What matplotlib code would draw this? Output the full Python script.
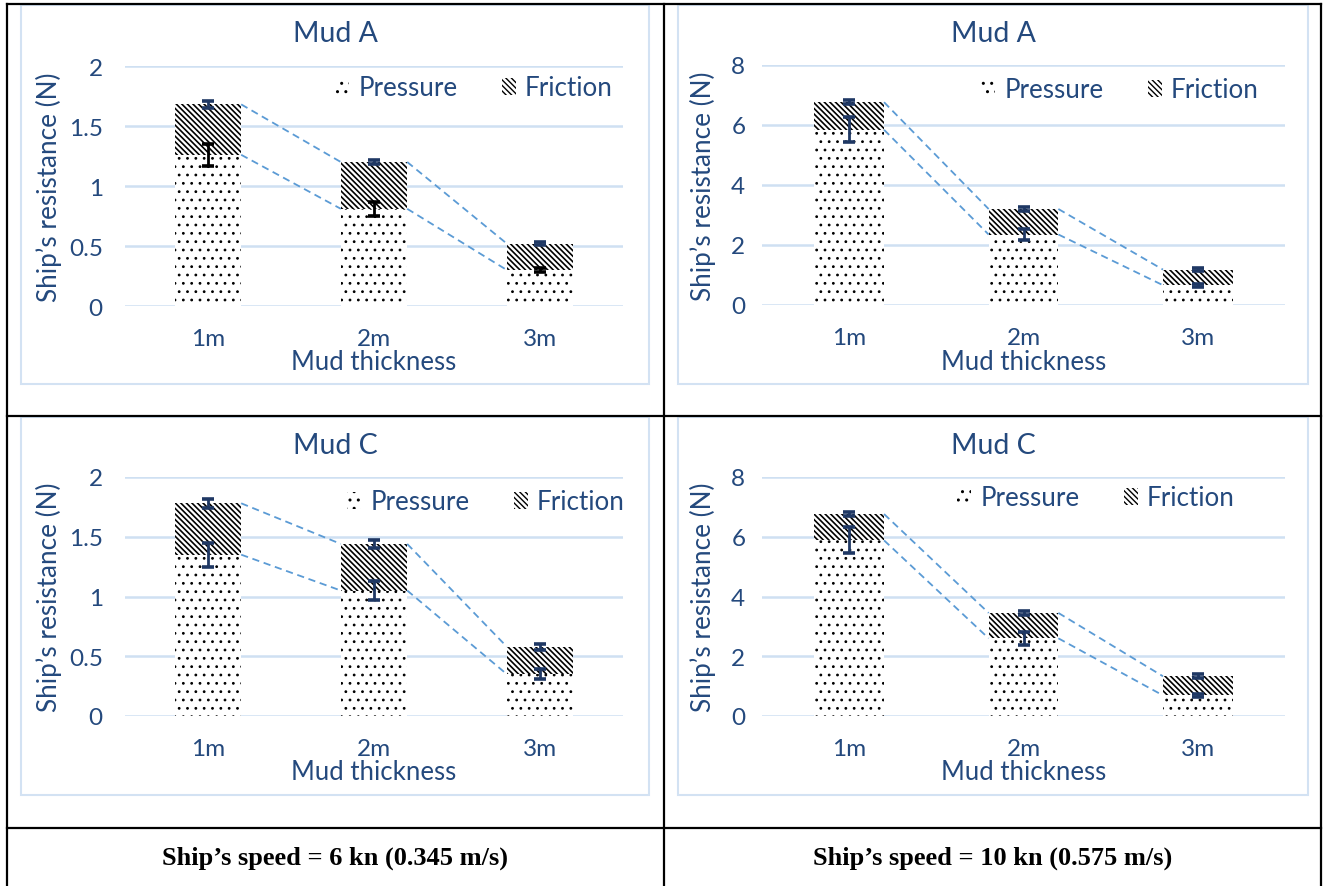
import matplotlib
matplotlib.use("Agg")
import matplotlib.pyplot as plt
from matplotlib.patches import Rectangle
from matplotlib.lines import Line2D
import numpy as np

# ---- data ---------------------------------------------------------------
thickness = ["1m", "2m", "3m"]

# Mud A, 6 kn
mudA_6_pressure = [1.26, 0.81, 0.30]
mudA_6_friction = [0.42, 0.39, 0.22]
mudA_6_pressure_err = [0.09, 0.06, 0.02]
mudA_6_total_err = [0.03, 0.02, 0.015]

# Mud A, 10 kn
mudA_10_pressure = [5.84, 2.35, 0.66]
mudA_10_friction = [0.92, 0.85, 0.52]
mudA_10_pressure_err = [0.42, 0.18, 0.05]
mudA_10_total_err = [0.07, 0.08, 0.05]

# Mud C, 6 kn
mudC_6_pressure = [1.35, 1.05, 0.35]
mudC_6_friction = [0.43, 0.39, 0.23]
mudC_6_pressure_err = [0.10, 0.08, 0.04]
mudC_6_total_err = [0.04, 0.03, 0.025]

# Mud C, 10 kn
mudC_10_pressure = [5.88, 2.60, 0.69]
mudC_10_friction = [0.88, 0.85, 0.64]
mudC_10_pressure_err = [0.44, 0.22, 0.06]
mudC_10_total_err = [0.08, 0.08, 0.06]

ticks_6 = [0, 0.5, 1, 1.5, 2]
tick_labels_6 = ["0", "0.5", "1", "1.5", "2"]
ticks_10 = [0, 2, 4, 6, 8]
tick_labels_10 = ["0", "2", "4", "6", "8"]

captions = ["Ship\u2019s speed = 6 kn (0.345 m/s)", "Ship\u2019s speed = 10 kn (0.575 m/s)"]

# ---- styling ------------------------------------------------------------
W, H = 1325, 887
TEXT = "#24497D"
GRID = "#CFE0F2"
BOX = "#D3E2F3"
SERIES_LINE = "#5B9BD5"
ERR = "#1F3864"
FONT = "Lato"

plt.rcParams["font.family"] = [FONT, "DejaVu Sans"]

fig = plt.figure(figsize=(W / 100, H / 100), dpi=100)


def fx(px):
    return px / W


def fy(py):
    return 1 - py / H


def chart(box, plot, title, pressure, friction, p_err, t_err, ticks, tick_labels,
          ymax, ylab_x, legend_xy, ytick_pad, p_err_color=ERR):
    bx0, by0, bx1, by1 = box
    fig.add_artist(Rectangle((fx(bx0), fy(by1)), fx(bx1 - bx0), (by1 - by0) / H,
                             transform=fig.transFigure, fill=False,
                             edgecolor=BOX, linewidth=1.5))
    x0, y0, x1, y1 = plot
    ax = fig.add_axes([fx(x0), fy(y1), fx(x1 - x0), (y1 - y0) / H])
    x = np.arange(len(thickness))
    width = 0.4
    pressure = np.asarray(pressure)
    friction = np.asarray(friction)
    total = pressure + friction

    with plt.rc_context({"hatch.linewidth": 0.8}):
        ax.bar(x, pressure, width, color="white", edgecolor="black", hatch="..",
               linewidth=0, zorder=2, label="Pressure")
    with plt.rc_context({"hatch.linewidth": 1.2}):
        ax.bar(x, friction, width, bottom=pressure, color="white", edgecolor="black",
               hatch="\\\\\\\\\\\\", linewidth=0, zorder=2, label="Friction")

    # series lines joining the segment tops of neighbouring bars
    for tops in (pressure, total):
        for i in range(len(x) - 1):
            ax.plot([x[i] + width / 2, x[i + 1] - width / 2], [tops[i], tops[i + 1]],
                    color=SERIES_LINE, linestyle=(0, (4, 2.6)), linewidth=1.3, zorder=3)

    ax.errorbar(x, pressure, yerr=p_err, fmt="none", ecolor=p_err_color,
                elinewidth=2.0, capsize=4.3, capthick=2.6, zorder=4)
    ax.errorbar(x, total, yerr=t_err, fmt="none", ecolor=ERR,
                elinewidth=2.0, capsize=4.3, capthick=2.6, zorder=4)

    ax.set_xlim(-0.5, 2.5)
    ax.set_ylim(0, ymax)
    ax.set_yticks(ticks)
    ax.set_yticklabels(tick_labels)
    ax.set_xticks(x)
    ax.set_xticklabels(thickness)
    ax.grid(axis="y", color=GRID, linewidth=1.8, zorder=0)
    ax.set_axisbelow(True)
    for s in ax.spines.values():
        s.set_visible(False)
    ax.tick_params(axis="both", length=0, labelsize=17.5, labelcolor=TEXT)
    ax.tick_params(axis="y", pad=ytick_pad)
    ax.tick_params(axis="x", pad=16)
    ax.set_xlabel("Mud thickness", fontsize=18.5, color=TEXT, labelpad=0, va="center")
    ax.xaxis.set_label_coords(0.5, -56 / (y1 - y0))
    ax.set_ylabel("Ship\u2019s resistance (N)", fontsize=18.8, color=TEXT, va="center")
    ax.yaxis.set_label_coords(-(x0 - ylab_x) / (x1 - x0), 0.5)

    fig.text(fx((bx0 + bx1) / 2), fy(by0 + 28), title, fontsize=20.5, color=TEXT,
             ha="center", va="center")

    ax.legend(loc="center", bbox_to_anchor=(fx(legend_xy[0]), fy(legend_xy[1])),
              bbox_transform=fig.transFigure, ncol=2, frameon=False,
              fontsize=18.7, handlelength=0.55, handleheight=0.6,
              handletextpad=0.35, columnspacing=1.7, labelcolor=TEXT)
    return ax


# top-left: Mud A, 6 kn
chart((21, 6, 649, 385), (125, 67, 623, 307), "Mud A",
      mudA_6_pressure, mudA_6_friction, mudA_6_pressure_err, mudA_6_total_err,
      ticks_6, tick_labels_6, 2, 49, (474, 89), 16, p_err_color="black")
# top-right: Mud A, 10 kn
chart((678, 6, 1308, 385), (762, 66, 1285, 306), "Mud A",
      mudA_10_pressure, mudA_10_friction, mudA_10_pressure_err, mudA_10_total_err,
      ticks_10, tick_labels_10, 8, 703, (1120, 91), 12)
# bottom-left: Mud C, 6 kn
chart((21, 418, 649, 796), (125, 478, 623, 717), "Mud C",
      mudC_6_pressure, mudC_6_friction, mudC_6_pressure_err, mudC_6_total_err,
      ticks_6, tick_labels_6, 2, 49, (486, 503), 16)
# bottom-right: Mud C, 10 kn
chart((678, 418, 1308, 796), (762, 478, 1285, 717), "Mud C",
      mudC_10_pressure, mudC_10_friction, mudC_10_pressure_err, mudC_10_total_err,
      ticks_10, tick_labels_10, 8, 703, (1096, 499), 12)


# table frame
def hline(y, xa, xb):
    fig.add_artist(Line2D([fx(xa), fx(xb)], [fy(y), fy(y)], transform=fig.transFigure,
                          color="black", linewidth=1.6))


def vline(x, ya, yb):
    fig.add_artist(Line2D([fx(x), fx(x)], [fy(ya), fy(yb)], transform=fig.transFigure,
                          color="black", linewidth=1.6))


hline(5, 7, 1321)
hline(417, 7, 1321)
hline(829, 7, 1321)
vline(7, 5, 887)
vline(664, 5, 887)
vline(1321, 5, 887)

fig.text(fx(335.5), fy(858), captions[0], fontsize=19, fontweight="bold",
         family="Liberation Serif", ha="center", va="center")
fig.text(fx(992.5), fy(858), captions[1], fontsize=19, fontweight="bold",
         family="Liberation Serif", ha="center", va="center")

fig.savefig("out.png", dpi=100)
